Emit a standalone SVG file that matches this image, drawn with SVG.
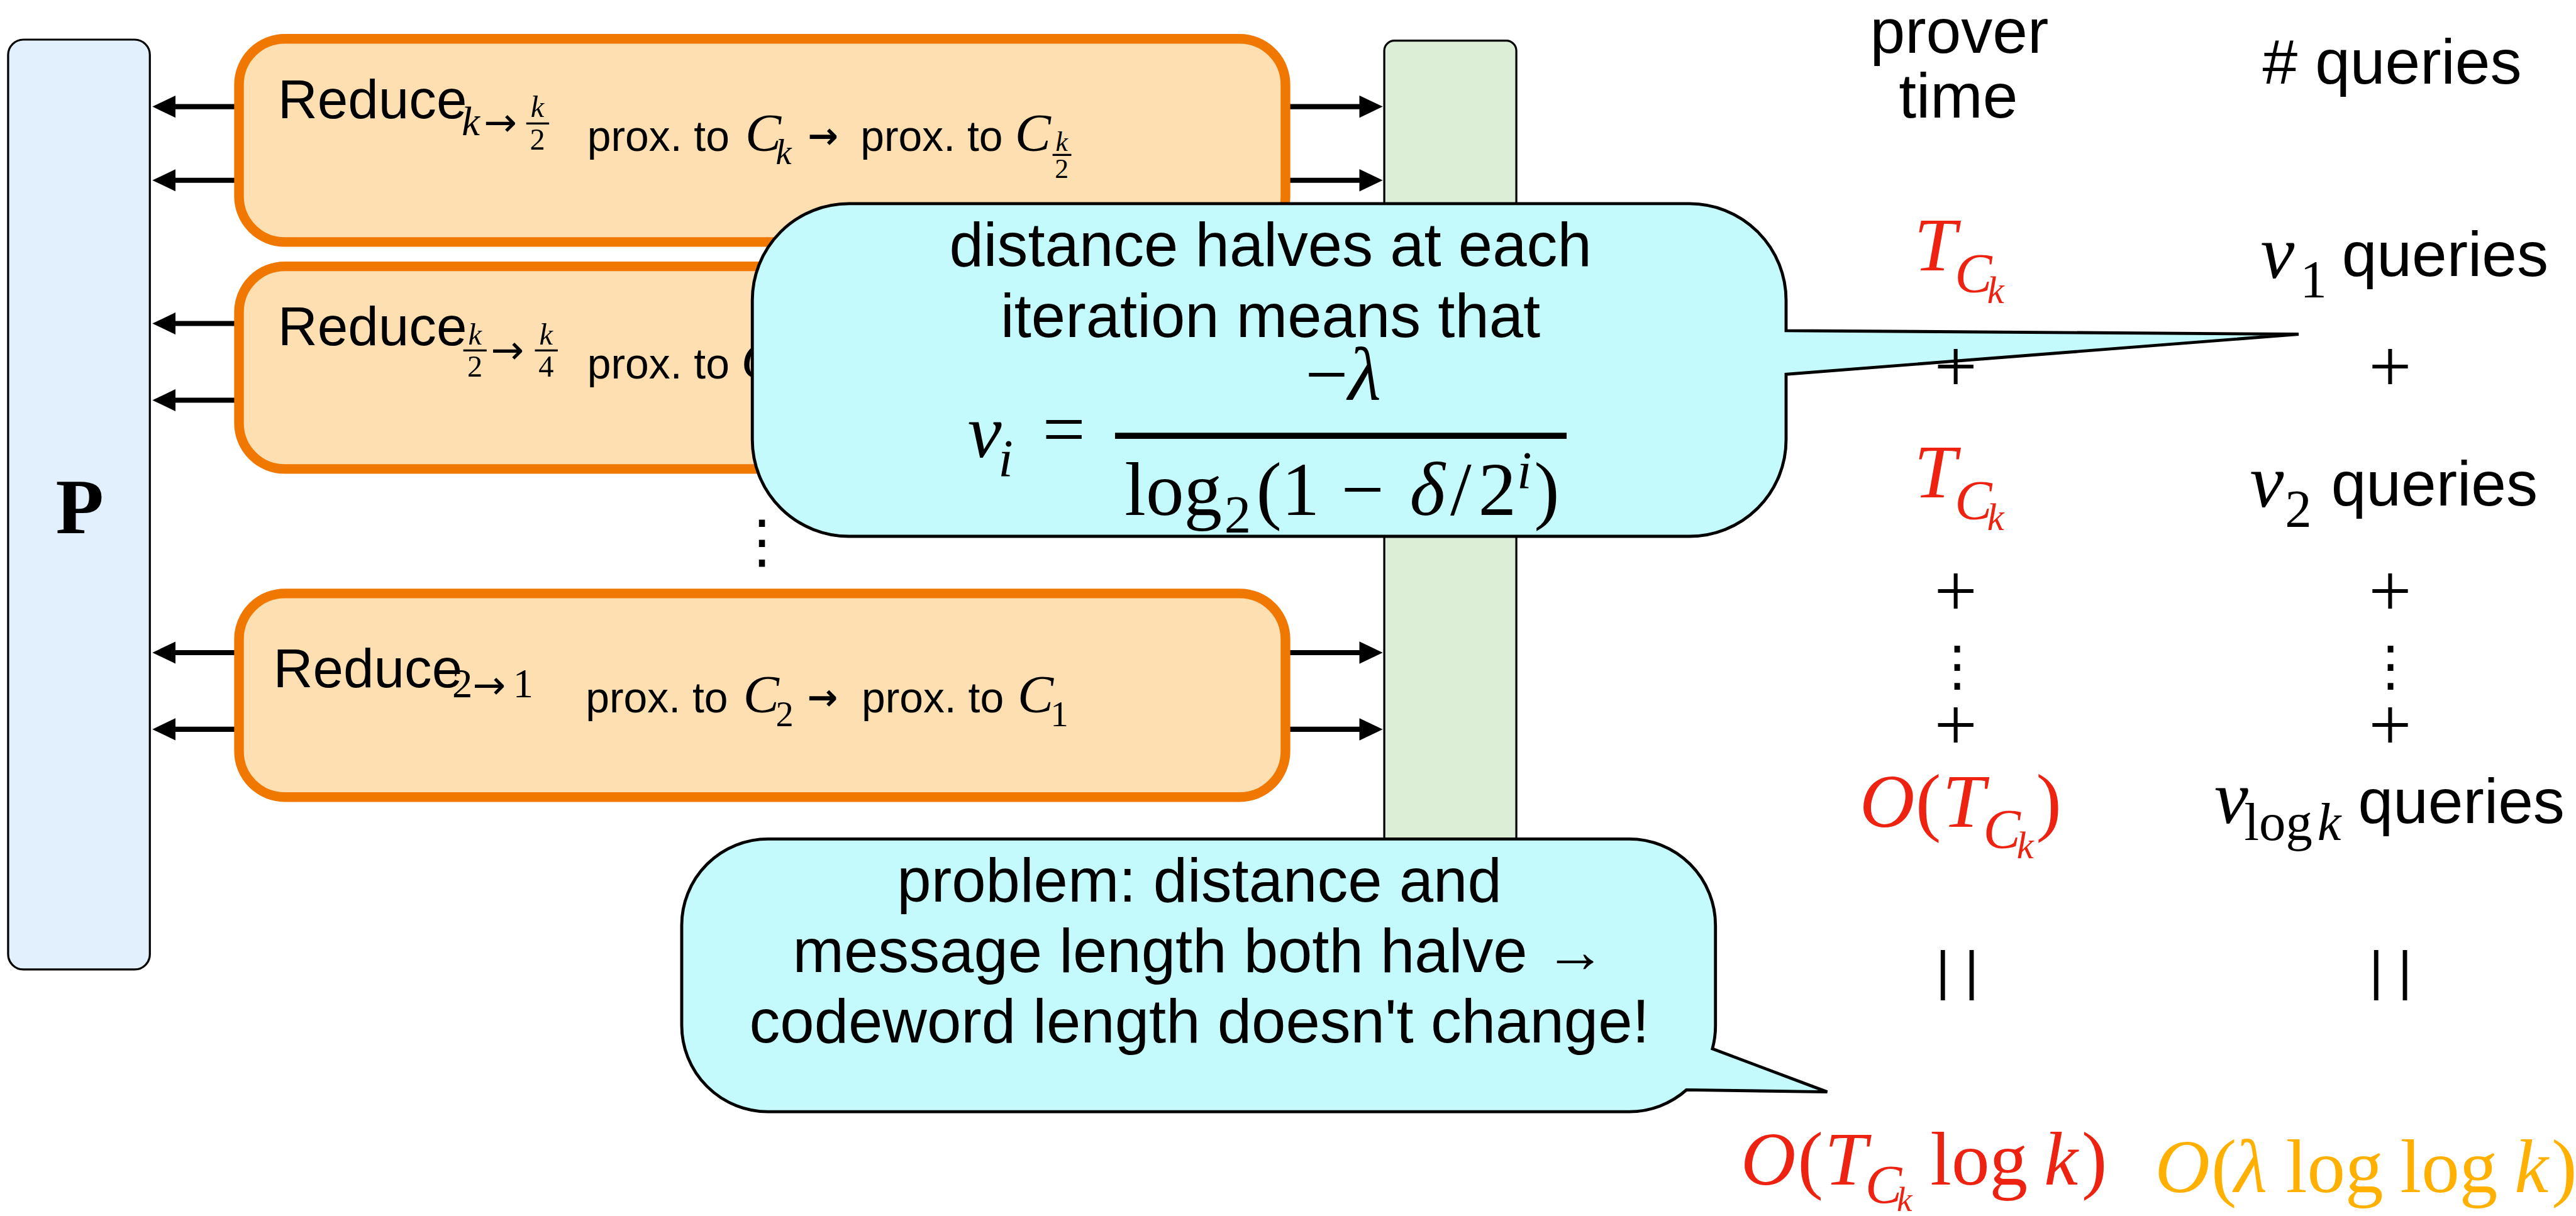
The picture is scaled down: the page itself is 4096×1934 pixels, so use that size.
<svg xmlns="http://www.w3.org/2000/svg" width="4096" height="1934" viewBox="0 0 4096 1934">
<defs>
<style>
.sans{font-family:"Liberation Sans",Arial,sans-serif}
.serif{font-family:"Liberation Serif","Times New Roman",serif}
.dv{font-family:"DejaVu Sans",sans-serif}
.it{font-style:italic}
.b{font-weight:bold}
.box{fill:#FDDFB1;stroke:#F07800;stroke-width:19}
.panelP{fill:#E2F0FD;stroke:#000;stroke-width:4}
.panelV{fill:#DCEED6;stroke:#000;stroke-width:4}
.bubble{fill:#C4FAFB;stroke:#000;stroke-width:6;stroke-linejoin:miter}
.conn{stroke:#000;stroke-width:10;fill:none}
.bar{stroke:#000;stroke-width:4}
.red{fill:#EE2211}
.amber{fill:#FFB000}
</style>
<marker id="ah" markerUnits="userSpaceOnUse" markerWidth="46" markerHeight="44" refX="6" refY="22" orient="auto"><path d="M0,0 L46,22 L0,44 Z" fill="#000"/></marker>
</defs>
<rect width="4096" height="1934" fill="#fff"/>
<g transform="scale(0.80773)">

<g id="prover-panel">
<rect class="panelP" x="16" y="78" width="279" height="1831" rx="30"/>
<text class="serif b" x="157" y="1050" font-size="155" text-anchor="middle">P</text>
</g>

<g id="verifier-panel">
<rect class="panelV" x="2725" y="80" width="260" height="1829" rx="20"/>
</g>

<g id="connectors">
<line class="conn" x1="470" y1="210" x2="340" y2="210" marker-end="url(#ah)"/>
<line class="conn" x1="470" y1="355" x2="340" y2="355" marker-end="url(#ah)"/>
<line class="conn" x1="470" y1="637" x2="340" y2="637" marker-end="url(#ah)"/>
<line class="conn" x1="470" y1="788" x2="340" y2="788" marker-end="url(#ah)"/>
<line class="conn" x1="470" y1="1285" x2="340" y2="1285" marker-end="url(#ah)"/>
<line class="conn" x1="470" y1="1436" x2="340" y2="1436" marker-end="url(#ah)"/>
<line class="conn" x1="2530" y1="210" x2="2682" y2="210" marker-end="url(#ah)"/>
<line class="conn" x1="2530" y1="355" x2="2682" y2="355" marker-end="url(#ah)"/>
<line class="conn" x1="2530" y1="1285" x2="2682" y2="1285" marker-end="url(#ah)"/>
<line class="conn" x1="2530" y1="1436" x2="2682" y2="1436" marker-end="url(#ah)"/>
</g>

<g id="reduce-1">
<rect class="box" x="470.5" y="76.5" width="2060" height="400" rx="90"/>
<text class="sans" x="547" y="233" font-size="108">Reduce</text>
<text class="serif it" x="909" y="266" font-size="80">k</text>
<text class="dv" x="952" y="268" font-size="78">→</text>
<text class="serif it" x="1058" y="230" font-size="60" text-anchor="middle">k</text>
<line class="bar" x1="1036" y1="243" x2="1081" y2="243"/>
<text class="serif" x="1058" y="295" font-size="60" text-anchor="middle">2</text>
<text class="sans" x="1156" y="297" font-size="84">prox. to</text>
<text class="serif it" x="1467" y="297" font-size="106">C</text>
<text class="serif it" x="1527" y="323" font-size="70">k</text>
<text class="dv b" x="1590" y="292" font-size="72">→</text>
<text class="sans" x="1694" y="297" font-size="84">prox. to</text>
<text class="serif it" x="1998" y="297" font-size="106">C</text>
<text class="serif it" x="2090" y="297" font-size="54" text-anchor="middle">k</text>
<line class="bar" x1="2072" y1="305" x2="2109" y2="305"/>
<text class="serif" x="2090" y="350" font-size="54" text-anchor="middle">2</text>
</g>

<g id="reduce-2">
<rect class="box" x="470.5" y="524.5" width="2060" height="399" rx="90"/>
<text class="sans" x="547" y="680" font-size="108">Reduce</text>
<text class="serif it" x="935" y="678" font-size="60" text-anchor="middle">k</text>
<line class="bar" x1="912" y1="690" x2="958" y2="690"/>
<text class="serif" x="935" y="742" font-size="60" text-anchor="middle">2</text>
<text class="dv" x="966" y="715" font-size="78">→</text>
<text class="serif it" x="1075" y="678" font-size="60" text-anchor="middle">k</text>
<line class="bar" x1="1053" y1="690" x2="1098" y2="690"/>
<text class="serif" x="1075" y="742" font-size="60" text-anchor="middle">4</text>
<text class="sans" x="1156" y="745" font-size="84">prox. to</text>
<text class="serif it" x="1459" y="745" font-size="106">C</text>
</g>

<g id="reduce-3">
<rect class="box" x="470.5" y="1168.5" width="2060" height="401" rx="90"/>
<text class="sans" x="538" y="1353" font-size="108">Reduce</text>
<text class="serif" font-size="80"><tspan x="890" y="1373">2</tspan><tspan class="dv" x="930" y="1375" font-size="78">→</tspan><tspan x="1010" y="1373">1</tspan></text>
<text class="sans" x="1153" y="1403" font-size="84">prox. to</text>
<text class="serif it" x="1463" y="1403" font-size="106">C</text>
<text class="serif" x="1527" y="1430" font-size="70">2</text>
<text class="dv b" x="1589" y="1398" font-size="72">→</text>
<text class="sans" x="1696" y="1403" font-size="84">prox. to</text>
<text class="serif it" x="2003" y="1403" font-size="106">C</text>
<text class="serif" x="2068" y="1430" font-size="70">1</text>
</g>

<g id="ellipsis-mid">
<text class="dv" x="1500" y="1105" font-size="115" text-anchor="middle">⋮</text>
</g>

<g id="bubble-distance">
<path class="bubble" d="M1671,401 H3326 A190,190 0 0 1 3516,591 V651 L4525,658 L3516,737 V866 A190,190 0 0 1 3326,1056 H1671 A190,190 0 0 1 1481,866 V591 A190,190 0 0 1 1671,401 Z"/>
<text class="sans" x="2501" y="524" font-size="121" text-anchor="middle">distance halves at each</text>
<text class="sans" x="2501" y="663" font-size="121" text-anchor="middle">iteration means that</text>
<text class="serif" font-size="150"><tspan class="it" x="1905" y="900">ν</tspan><tspan class="it" x="1965" y="938" font-size="105">i</tspan><tspan x="2052" y="895">=</tspan></text>
<text class="serif" x="2644" y="787" font-size="150" text-anchor="middle">−<tspan class="it">λ</tspan></text>
<line x1="2195" y1="858" x2="3084" y2="858" stroke="#000" stroke-width="12"/>
<text class="serif" font-size="150"><tspan x="2214" y="1014">log</tspan><tspan x="2410" y="1048" font-size="105">2</tspan><tspan x="2473" y="1014">(1</tspan><tspan x="2640" y="1014">−</tspan><tspan class="it" x="2775" y="1014">δ</tspan><tspan x="2855" y="1014">/</tspan><tspan x="2910" y="1014">2</tspan><tspan class="it" x="2986" y="962" font-size="105">i</tspan><tspan x="3020" y="1014">)</tspan></text>
</g>

<g id="bubble-problem">
<path class="bubble" d="M1512,1652 H3207 A170,170 0 0 1 3377,1822 V2019 A170,170 0 0 1 3371,2065 L3597,2150 L3320,2146 A170,170 0 0 1 3207,2189 H1512 A170,170 0 0 1 1342,2019 V1822 A170,170 0 0 1 1512,1652 Z"/>
<text class="sans" x="2361" y="1775" font-size="121" text-anchor="middle">problem: distance and</text>
<text class="sans" x="2361" y="1914" font-size="121" text-anchor="middle">message length both halve →</text>
<text class="sans" x="2361" y="2053" font-size="121" text-anchor="middle">codeword length doesn't change!</text>
</g>

<g id="col-prover-time">
<text class="sans" x="3857" y="104" font-size="124" text-anchor="middle">prover</text>
<text class="sans" x="3855" y="232" font-size="124" text-anchor="middle">time</text>
<text class="serif it red" font-size="150"><tspan x="3768" y="532">T</tspan><tspan x="3848" y="574" font-size="110">C</tspan><tspan x="3912" y="597" font-size="75">k</tspan></text>
<text class="serif" x="3850" y="771" font-size="150" text-anchor="middle">+</text>
<text class="serif it red" font-size="150"><tspan x="3768" y="979">T</tspan><tspan x="3848" y="1021" font-size="110">C</tspan><tspan x="3912" y="1044" font-size="75">k</tspan></text>
<text class="serif" x="3850" y="1213" font-size="150" text-anchor="middle">+</text>
<text class="dv" x="3853" y="1348" font-size="108" text-anchor="middle">⋮</text>
<text class="serif" x="3850" y="1477" font-size="150" text-anchor="middle">+</text>
<text class="serif red" font-size="150"><tspan class="it" x="3661" y="1628">O</tspan><tspan x="3771" y="1628">(</tspan><tspan class="it" x="3824" y="1628">T</tspan><tspan class="it" x="3904" y="1669" font-size="110">C</tspan><tspan class="it" x="3970" y="1690" font-size="75">k</tspan><tspan x="4008" y="1628">)</tspan></text>
<text class="sans" x="3853" y="1948" font-size="105" text-anchor="middle">| |</text>
<text class="serif red" font-size="150"><tspan class="it" x="3427" y="2333">O</tspan><tspan x="3539" y="2333">(</tspan><tspan class="it" x="3592" y="2333">T</tspan><tspan class="it" x="3672" y="2368" font-size="108">C</tspan><tspan class="it" x="3734" y="2384" font-size="68">k</tspan><tspan x="3800" y="2333">log</tspan><tspan class="it" x="4024" y="2333">k</tspan><tspan x="4098" y="2333">)</tspan></text>
</g>

<g id="col-queries">
<text class="sans" x="4709" y="165" font-size="124" text-anchor="middle"># queries</text>
<text class="serif" font-size="150"><tspan class="it" x="4450" y="547">ν</tspan><tspan x="4528" y="585" font-size="105">1</tspan></text>
<text class="sans" x="4610" y="543" font-size="124">queries</text>
<text class="serif" x="4705" y="771" font-size="150" text-anchor="middle">+</text>
<text class="serif" font-size="150"><tspan class="it" x="4429" y="998">ν</tspan><tspan x="4498" y="1037" font-size="105">2</tspan></text>
<text class="sans" x="4589" y="996" font-size="124">queries</text>
<text class="serif" x="4705" y="1213" font-size="150" text-anchor="middle">+</text>
<text class="dv" x="4706" y="1348" font-size="108" text-anchor="middle">⋮</text>
<text class="serif" x="4705" y="1477" font-size="150" text-anchor="middle">+</text>
<text class="serif" font-size="150"><tspan class="it" x="4359" y="1621">ν</tspan><tspan x="4418" y="1654" font-size="105">log</tspan><tspan class="it" x="4562" y="1654" font-size="105">k</tspan></text>
<text class="sans" x="4642" y="1620" font-size="124">queries</text>
<text class="sans" x="4706" y="1948" font-size="105" text-anchor="middle">| |</text>
<text class="serif amber" font-size="150"><tspan class="it" x="4242" y="2347">O</tspan><tspan x="4353" y="2347">(</tspan><tspan class="it" x="4398" y="2347">λ</tspan><tspan x="4500" y="2347">log</tspan><tspan x="4725" y="2347">log</tspan><tspan class="it" x="4950" y="2347">k</tspan><tspan x="5023" y="2347">)</tspan></text>
</g>

</g>
</svg>
